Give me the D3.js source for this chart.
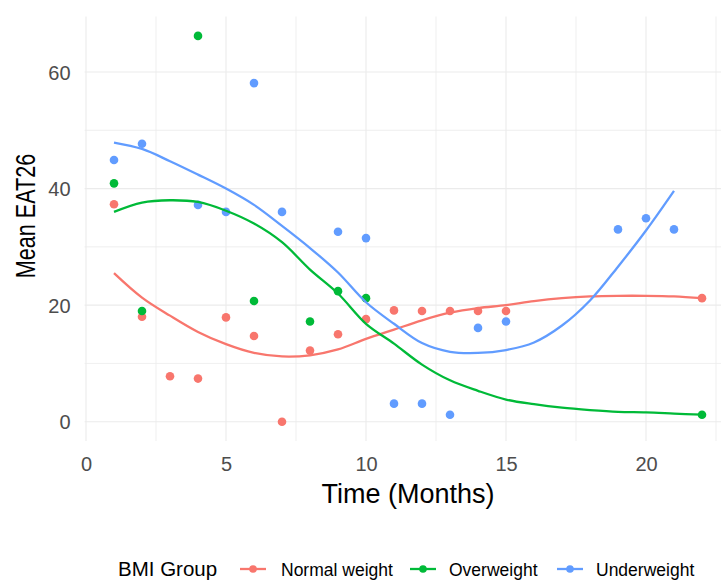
<!DOCTYPE html>
<html>
<head>
<meta charset="utf-8">
<script src="https://cdn.jsdelivr.net/npm/d3@7"></script>
<style>
  html, body { margin: 0; padding: 0; background: #fff; }
  svg { display: block; font-family: "Liberation Sans", Arial, sans-serif; }
</style>
</head>
<body>
<svg id="chart" width="721" height="581"></svg>
<script>
// ---- Data ----
const groups = ["Normal weight", "Overweight", "Underweight"];
const colors = ["#F8766D", "#00BA38", "#619CFF"];

// observed monthly means (points)
const normalX = [1, 2, 3, 4, 5, 6, 7, 8, 9, 10, 11, 12, 13, 14, 15, 22];
const normalY = [37.3, 18.0, 7.8, 7.4, 17.9, 14.7, 0.0, 12.2, 15.0, 17.6, 19.1, 19.0, 19.0, 19.0, 19.0, 21.2];

const overX = [1, 2, 4, 6, 8, 9, 10, 22];
const overY = [40.9, 19.0, 66.2, 20.7, 17.2, 22.4, 21.2, 1.2];

const underX = [1, 2, 4, 5, 6, 7, 9, 10, 11, 12, 13, 14, 15, 19, 20, 21];
const underY = [44.9, 47.7, 37.2, 36.0, 58.1, 36.0, 32.6, 31.5, 3.1, 3.1, 1.2, 16.1, 17.2, 33.0, 34.9, 33.0];

// smoothed trend lines (at each month)
const normalSmoothX = [1, 2, 3, 4, 5, 6, 7, 8, 9, 10, 11, 12, 13, 14, 15, 16, 17, 18, 19, 20, 21, 22];
const normalSmoothY = [25.5, 21.3, 18.2, 15.4, 13.3, 11.8, 11.2, 11.4, 12.4, 14.2, 15.8, 17.4, 18.7, 19.5, 20.0, 20.7, 21.2, 21.5, 21.6, 21.6, 21.5, 21.2];

const overSmoothX = [1, 2, 3, 4, 5, 6, 7, 8, 9, 10, 11, 12, 13, 14, 15, 16, 17, 18, 19, 20, 21, 22];
const overSmoothY = [36.0, 37.6, 38.0, 37.7, 36.2, 34.0, 30.8, 26.1, 22.0, 16.8, 13.4, 9.8, 7.1, 5.3, 3.8, 3.0, 2.4, 2.0, 1.7, 1.6, 1.4, 1.2];

const underSmoothX = [1, 2, 3, 4, 5, 6, 7, 8, 9, 10, 11, 12, 13, 14, 15, 16, 17, 18, 19, 20, 21];
const underSmoothY = [47.9, 46.8, 44.7, 42.4, 40.0, 37.2, 33.6, 29.8, 25.6, 20.5, 16.8, 13.5, 12.0, 11.8, 12.3, 13.6, 16.5, 20.8, 26.6, 32.8, 39.6];

const xTicks = [0, 5, 10, 15, 20];
const yTicks = [0, 20, 40, 60];
const xMinor = [2.5, 7.5, 12.5, 17.5, 22.5];
const yMinor = [10, 30, 50];

const xTitle = "Time (Months)";
const yTitle = "Mean EAT26";
const legendTitle = "BMI Group";

// ---- Build series ----
const zip = (a, b) => a.map((d, i) => [d, b[i]]);
const series = [
  { name: groups[0], color: colors[0], pts: zip(normalX, normalY), smooth: zip(normalSmoothX, normalSmoothY) },
  { name: groups[1], color: colors[1], pts: zip(overX, overY), smooth: zip(overSmoothX, overSmoothY) },
  { name: groups[2], color: colors[2], pts: zip(underX, underY), smooth: zip(underSmoothX, underSmoothY) }
];

// ---- Scales ----
const allY = [].concat(normalY, overY, underY);
const yr = d3.extent(allY);
const ypad = (yr[1] - yr[0]) * 0.05;

const panel = { left: 84.6, right: 731.4, top: 16.6, bottom: 441 };
const x = d3.scaleLinear().domain([-0.05, 23.05]).range([panel.left, panel.right]);
const y = d3.scaleLinear().domain([yr[0] - ypad, yr[1] + ypad]).range([panel.bottom, panel.top]);

const svg = d3.select("#chart");

// ---- Grid ----
const grid = svg.append("g");
grid.selectAll(".vmin").data(xMinor).enter().append("line")
  .attr("x1", d => x(d)).attr("x2", d => x(d))
  .attr("y1", panel.top).attr("y2", panel.bottom)
  .attr("stroke", "#EBEBEB").attr("stroke-width", 0.8);
grid.selectAll(".hmin").data(yMinor).enter().append("line")
  .attr("y1", d => y(d)).attr("y2", d => y(d))
  .attr("x1", panel.left).attr("x2", panel.right)
  .attr("stroke", "#EBEBEB").attr("stroke-width", 0.8);
grid.selectAll(".vmaj").data(xTicks).enter().append("line")
  .attr("x1", d => x(d)).attr("x2", d => x(d))
  .attr("y1", panel.top).attr("y2", panel.bottom)
  .attr("stroke", "#EBEBEB").attr("stroke-width", 1.1);
grid.selectAll(".hmaj").data(yTicks).enter().append("line")
  .attr("y1", d => y(d)).attr("y2", d => y(d))
  .attr("x1", panel.left).attr("x2", panel.right)
  .attr("stroke", "#EBEBEB").attr("stroke-width", 1.1);

// ---- Axes (labels only, via d3 axes) ----
const xAxis = svg.append("g").attr("transform", `translate(0,${panel.bottom})`)
  .call(d3.axisBottom(x).tickValues(xTicks).tickSize(0).tickPadding(30).tickFormat(d3.format("d")));
xAxis.select(".domain").remove();
xAxis.selectAll("text").attr("font-size", 20).attr("fill", "#4D4D4D")
  .attr("font-family", "Liberation Sans, Arial, sans-serif").attr("dy", 0);

const yAxis = svg.append("g").attr("transform", `translate(${panel.left},0)`)
  .call(d3.axisLeft(y).tickValues(yTicks).tickSize(0).tickPadding(14).tickFormat(d3.format("d")));
yAxis.select(".domain").remove();
yAxis.selectAll("text").attr("font-size", 20).attr("fill", "#4D4D4D")
  .attr("font-family", "Liberation Sans, Arial, sans-serif").attr("dy", "0.36em");

// ---- Points ----
series.forEach(s => {
  svg.append("g").selectAll("circle").data(s.pts).enter()
    .append("circle")
    .attr("cx", d => x(d[0])).attr("cy", d => y(d[1])).attr("r", 4.3)
    .attr("fill", s.color);
});

// ---- Smooth lines ----
const line = d3.line().x(d => x(d[0])).y(d => y(d[1])).curve(d3.curveCatmullRom.alpha(0.5));
series.forEach(s => {
  svg.append("path").datum(s.smooth).attr("d", line)
    .attr("fill", "none").attr("stroke", s.color).attr("stroke-width", 2.3);
});

// ---- Titles ----
svg.append("text").attr("x", 408).attr("y", 503).attr("text-anchor", "middle")
  .attr("font-size", 27).attr("fill", "#000").text(xTitle);
svg.append("text").attr("transform", "translate(35,216) rotate(-90) scale(0.8,1)")
  .attr("text-anchor", "middle").attr("font-size", 27).attr("fill", "#000").text(yTitle);

// ---- Legend ----
const lg = svg.append("g");
lg.append("text").attr("x", 118).attr("y", 576).attr("font-size", 20.5).attr("fill", "#000").text(legendTitle);
const keyX = [240, 410, 557];
const labX = [281, 449, 596];
series.forEach((s, i) => {
  lg.append("line").attr("x1", keyX[i]).attr("x2", keyX[i] + 26).attr("y1", 569).attr("y2", 569)
    .attr("stroke", s.color).attr("stroke-width", 2.3);
  lg.append("circle").attr("cx", keyX[i] + 13).attr("cy", 569).attr("r", 3.8).attr("fill", s.color);
  lg.append("text").attr("x", labX[i]).attr("y", 575.5).attr("font-size", 17.5).attr("fill", "#000").text(s.name);
});
</script>
</body>
</html>
